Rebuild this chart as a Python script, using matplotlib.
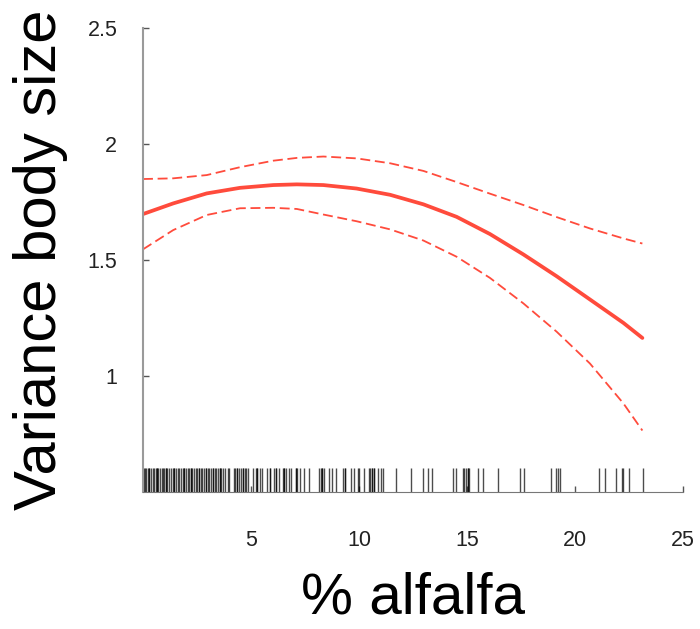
import matplotlib
matplotlib.use('Agg')
import matplotlib.pyplot as plt

plt.rcParams['font.family'] = ['Liberation Sans', 'DejaVu Sans']

# fitted curve
alfalfa = [0.0, 1.4, 2.95, 4.49, 6.03, 7.12, 8.35, 9.89, 11.44, 12.98, 14.52,
           16.06, 17.61, 19.15, 20.69, 22.24, 23.12]
fit = [1.698, 1.744, 1.787, 1.811, 1.823, 1.826, 1.823, 1.808, 1.781, 1.740, 1.686,
       1.612, 1.524, 1.430, 1.330, 1.229, 1.164]
upper = [1.849, 1.852, 1.866, 1.900, 1.928, 1.940, 1.946, 1.938, 1.917, 1.884, 1.836,
         1.786, 1.737, 1.685, 1.636, 1.593, 1.571]
lower = [1.546, 1.629, 1.694, 1.723, 1.725, 1.720, 1.696, 1.667, 1.632, 1.584, 1.514,
         1.423, 1.313, 1.191, 1.054, 0.882, 0.765]

# observations for the rug
rug = [0.05, 0.09, 0.16, 0.23, 0.30, 0.37, 0.44, 0.51, 0.58, 0.65, 0.69, 0.79, 0.86,
       0.93, 0.97, 1.06, 1.13, 1.20, 1.30, 1.37, 1.44, 1.53, 1.60, 1.67, 1.76, 1.83,
       1.90, 1.99, 2.06, 2.13, 2.22, 2.29, 2.36, 2.45, 2.52, 2.59, 2.69, 2.75, 2.82,
       2.92, 2.99, 3.06, 3.15, 3.24, 3.31, 3.38, 3.47, 3.56, 3.63, 3.70, 3.80, 3.94,
       4.00, 4.21, 4.28, 4.35, 4.44, 4.54, 4.61, 4.72, 4.79, 4.88, 5.07, 5.21, 5.28,
       5.42, 5.49, 5.76, 5.90, 6.06, 6.16, 6.30, 6.48, 6.55, 6.62, 6.76, 6.85, 7.08,
       7.15, 7.29, 7.45, 7.69, 8.15, 8.22, 8.29, 8.38, 8.61, 8.77, 8.94, 9.26, 9.33,
       9.63, 9.77, 9.95, 10.02, 10.23, 10.46, 10.53, 10.60, 10.69, 10.86, 11.02,
       11.10, 11.71, 12.41, 12.95, 13.18, 13.36, 14.34, 14.49, 14.80, 14.88, 14.95,
       15.06, 15.11, 15.49, 15.73, 16.42, 17.45, 17.64, 18.89, 19.11, 19.20, 19.31,
       21.11, 21.39, 21.88, 22.16, 22.24, 22.51, 23.13]
# a few values that show up darker (more than one observation)
rug_dup = [0.30, 0.65, 1.06, 1.44, 1.90, 2.22, 2.59, 2.92, 3.24, 3.56, 4.35, 4.61,
           5.28, 5.90, 6.16, 6.55, 7.08, 8.29, 9.33, 10.60, 10.69, 15.06]

xticks = [5, 10, 15, 20, 25]
yticks = [1, 1.5, 2, 2.5]
ytick_labels = ['1', '1.5', '2', '2.5']

red = '#ff4b3c'

fig = plt.figure(figsize=(7, 6.29), dpi=100)
ax = fig.add_axes([0.2043, 0.2178, 0.7714, 0.7377])

ax.plot(alfalfa, fit, color=red, lw=2.7, solid_capstyle='round')
ax.plot(alfalfa, upper, color=red, lw=1.3, dashes=(5.5, 2.6))
ax.plot(alfalfa, lower, color=red, lw=1.3, dashes=(5.5, 2.6))

# rug
ax.vlines(rug + rug_dup, 0.5, 0.603, color='black', lw=1.0, alpha=0.7)

ax.set_xlim(0, 25)
ax.set_ylim(0.5, 2.5)

for s in ['top', 'right']:
    ax.spines[s].set_visible(False)
ax.spines['left'].set_color('#9a9a9a')
ax.spines['left'].set_linewidth(1.5)
ax.spines['bottom'].set_color('#777777')
ax.spines['bottom'].set_linewidth(0.8)

ax.set_xticks(xticks)
ax.set_xticklabels([str(t) for t in xticks])
ax.set_yticks(yticks)
ax.set_yticklabels(ytick_labels)
ax.tick_params(axis='x', direction='in', length=4, width=1, color='#555555',
               labelsize=15.5, pad=27, labelcolor='#222222')
ax.tick_params(axis='y', direction='in', length=4, width=1, color='#555555',
               labelsize=15.5, pad=18.5, labelcolor='#222222')

ax.set_xlabel('% alfalfa', fontsize=42)
ax.set_ylabel('Variance body size', fontsize=43)
ax.xaxis.set_label_coords(0.5, -0.172)
ax.yaxis.set_label_coords(-0.139, 0.5)

fig.savefig('out.png', dpi=100)
